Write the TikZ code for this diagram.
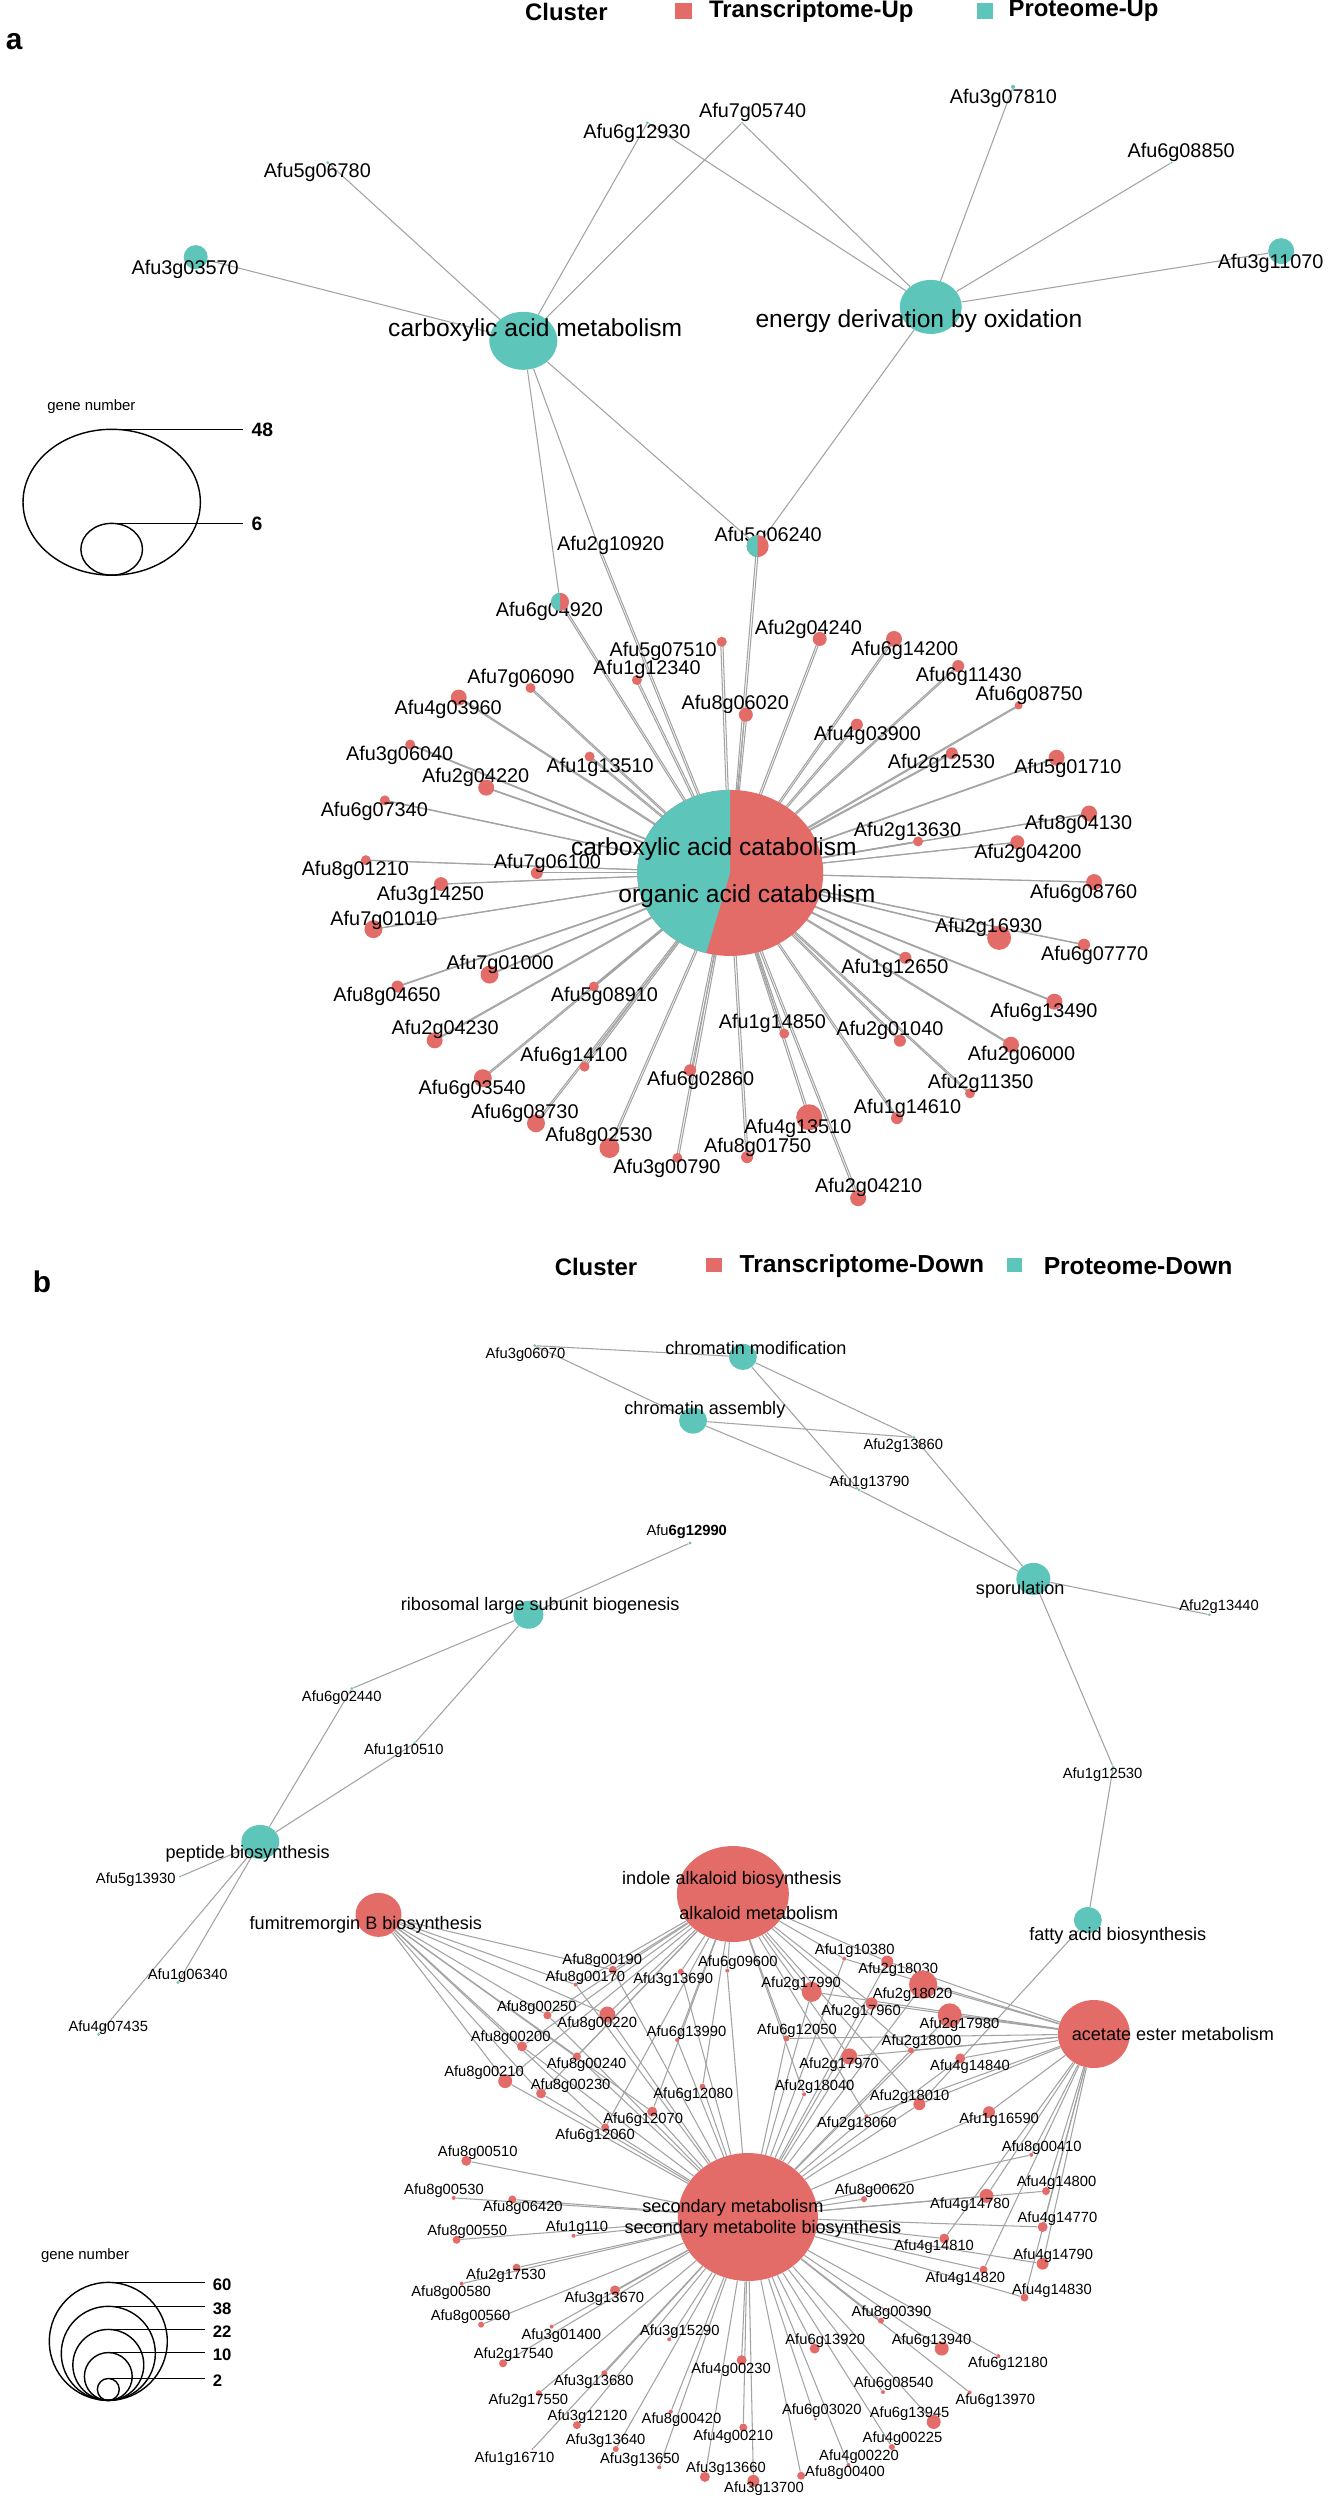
\documentclass[tikz,border=0pt]{standalone}
\usepackage{fontspec}
\setmainfont{Liberation Sans}
\usetikzlibrary{shapes.geometric}
\definecolor{rd}{HTML}{E46C68}
\definecolor{tl}{HTML}{5EC5BA}
\definecolor{eg}{HTML}{A3A3A3}
\pgfdeclarelayer{background}
\pgfdeclarelayer{paper}
\pgfsetlayers{paper,background,main}
\tikzset{
  dotn/.style={circle,inner sep=0pt,draw=none},
  hub/.style={ellipse,inner sep=0pt,draw=none},
  glab/.style={font=\fontsize{11.3}{12}\selectfont,inner sep=0pt},
  blab/.style={font=\fontsize{14}{15}\selectfont,inner sep=0pt},
  edge/.style={draw=eg,line width=0.6pt},
  legt/.style={font=\bfseries\fontsize{13.6}{15}\selectfont,inner sep=0pt},
  Qa/.style={shift={(#1)},xscale=0.4222,yscale=0.3986},
  Qt/.style={shift={(#1)},scale=0.3333},
}
\newcommand\G[5][rd]{\node[dotn,fill=#1,minimum size=#5*0.04cm] (#2) at (#3) {};\node[glab] at (#4) {#2};}
\newcommand\HB[5]{\node[hub,fill=#1,minimum width=#4*0.04cm,minimum height=#5*0.04cm] (#2) at (#3) {};}
\begin{document}
\begin{tikzpicture}[x=0.02cm,y=-0.02cm]
\begin{pgfonlayer}{paper}
\path[use as bounding box,fill=white] (0,0) rectangle (1324,2500);
\end{pgfonlayer}
% ================= PANEL A =================
\begin{scope}[Qa={0,0}]
\node[font=\bfseries\fontsize{17}{18}\selectfont] at (22,105) {a};
\node[legt] at (1330,30) {Cluster};
\G[tl]{Afu5g06780}{765,408}{740,432}{1.5}
\G[tl]{Afu6g12930}{1522,308}{1497,335}{1.5}
\G[tl]{Afu3g03570}{452,645}{427,675}{12}
\HB{tl}{cam}{1228,855}{34}{29}
\node[blab] at (1256,828) {carboxylic acid metabolism};
\G[tl]{Afu2g10920}{1412,1388}{1435,1368}{1}
\node[dotn,minimum size=18*0.02cm] (Afu6g04920) at (1315,1510) {};
\node[glab] at (1290,1535) {Afu6g04920};
% legend
\node[font=\fontsize{8.5}{9}\selectfont] at (205,1020) {gene number};
\draw[line width=0.8pt] (253,1260) ellipse[x radius=210,y radius=183];
\draw[line width=0.8pt] (253,1378) ellipse[x radius=73,y radius=65];
\draw[line width=0.8pt] (253,1077) -- (565,1077) (253,1313) -- (565,1313);
\node[font=\bfseries\fontsize{11}{12}\selectfont,anchor=west] at (570,1078) {48};
\node[font=\bfseries\fontsize{11}{12}\selectfont,anchor=west] at (570,1313) {6};
\end{scope}
\begin{scope}[Qa={662,0}]
\fill[rd] (20,8) rectangle (60,48);
\node[legt] at (342,28) {Transcriptome-Up};
\fill[tl] (735,8) rectangle (772,48);
\node[legt] at (987,28) {Proteome-Up};
\G[tl]{Afu7g05740}{178,308}{203,283}{1}
\G[tl]{Afu3g07810}{820,218}{797,247}{2}
\G[tl]{Afu6g08850}{1195,408}{1218,383}{1}
\G[tl]{Afu3g11070}{1455,630}{1430,660}{13}
\HB{tl}{edo}{625,770}{31}{27}
\node[blab] at (597,805) {energy derivation by oxidation};
\node[dotn,minimum size=22*0.02cm] (Afu5g06240) at (215,1370) {};
\node[glab] at (240,1345) {Afu5g06240};
\end{scope}
% half-coloured small nodes
\fill[rd] (Afu5g06240.center) circle[radius=11];
\fill[tl] (Afu5g06240.center) ++(0,-11) arc[start angle=270,end angle=90,radius=11] -- cycle;
\fill[rd] (Afu6g04920.center) circle[radius=9];
\fill[tl] (Afu6g04920.center) ++(0,-9) arc[start angle=270,end angle=90,radius=9] -- cycle;
\begin{scope}[Qa={0,625}]
\G{Afu7g06090}{1245,158}{1222,133}{5}
\G{Afu4g03960}{1075,182}{1050,212}{8}
\G{Afu3g06040}{960,300}{935,327}{5}
\G{Afu1g13510}{1385,330}{1410,357}{5}
\G{Afu2g04220}{1140,408}{1115,383}{8}
\G{Afu6g07340}{900,440}{875,468}{5}
\G{Afu8g01210}{855,590}{830,615}{5}
\G{Afu7g06100}{1260,622}{1285,598}{6}
\G{Afu3g14250}{1033,650}{1008,678}{7}
\G{Afu7g01010}{873,763}{898,740}{9}
\G{Afu7g01000}{1148,877}{1173,852}{9}
\G{Afu8g04650}{930,907}{905,932}{6}
\G{Afu5g08910}{1395,907}{1420,932}{5}
\G{Afu2g04230}{1018,1042}{1043,1015}{8}
\G{Afu6g14100}{1373,1108}{1348,1083}{5}
\G{Afu6g03540}{1132,1137}{1107,1165}{9}
\G{Afu6g08730}{1258,1250}{1232,1225}{9}
\G{Afu8g02530}{1432,1312}{1407,1283}{10}
\end{scope}
\begin{scope}[Qa={662,625}]
\node[hub,minimum width=186*0.02cm,minimum height=166*0.02cm] (ca) at (150,622) {};
\G{Afu5g07510}{130,42}{-9,67}{5}
\G{Afu1g12340}{-71,138}{-47,112}{5}
\G{Afu3g00790}{25,1337}{0,1362}{5}
\G{Afu6g02860}{55,1117}{80,1142}{6}
\G{Afu2g04240}{362,35}{335,10}{7}
\G{Afu6g14200}{538,35}{563,63}{8}
\G{Afu6g11430}{690,103}{715,130}{6}
\G{Afu6g08750}{833,202}{858,177}{4}
\G{Afu8g06020}{187,225}{162,198}{7}
\G{Afu4g03900}{450,250}{475,277}{6}
\G{Afu2g12530}{675,322}{650,348}{6}
\G{Afu5g01710}{923,333}{950,360}{8}
\G{Afu8g04130}{1000,473}{975,500}{8}
\G{Afu2g13630}{595,543}{570,518}{5}
\G{Afu2g04200}{830,545}{855,572}{7}
\G{Afu6g08760}{1012,645}{987,673}{8}
\G{Afu2g16930}{787,785}{762,758}{12}
\G{Afu6g07770}{988,802}{1013,828}{6}
\G{Afu1g12650}{565,835}{540,862}{6}
\G{Afu6g13490}{918,945}{893,973}{8}
\G{Afu1g14850}{278,1025}{250,1000}{5}
\G{Afu2g01040}{552,1043}{528,1018}{6}
\G{Afu2g06000}{815,1053}{840,1080}{8}
\G{Afu2g11350}{718,1175}{743,1150}{5}
\G{Afu1g14610}{545,1237}{570,1212}{6}
\G{Afu4g13510}{337,1235}{310,1263}{13}
\G{Afu8g01750}{190,1335}{215,1310}{6}
\G{Afu2g04210}{453,1438}{478,1412}{8}
\end{scope}
% central pie
\fill[rd] (ca.center) ellipse[x radius=93,y radius=83];
\fill[tl] (ca.center) -- ++(0,-83) arc[start angle=270,end angle=105,x radius=93,y radius=83] -- cycle;
\node[blab] at (709,849) {carboxylic acid catabolism};
\node[blab] at (742,896) {organic acid catabolism};
\begin{pgfonlayer}{background}
\foreach \g in {Afu3g03570,Afu5g06780,Afu6g12930,Afu7g05740,Afu2g10920,Afu6g04920,Afu5g06240}
  \draw[edge] (cam) -- (\g);
\foreach \g in {Afu6g12930,Afu7g05740,Afu3g07810,Afu6g08850,Afu3g11070,Afu5g06240}
  \draw[edge] (edo) -- (\g);
\foreach \g in {Afu5g06240,Afu2g10920,Afu6g04920,Afu7g06090,Afu4g03960,Afu3g06040,Afu1g13510,Afu2g04220,Afu6g07340,Afu8g01210,Afu7g06100,Afu3g14250,Afu7g01010,Afu7g01000,Afu8g04650,Afu5g08910,Afu2g04230,Afu6g14100,Afu6g03540,Afu6g08730,Afu8g02530,Afu5g07510,Afu1g12340,Afu3g00790,Afu6g02860,Afu2g04240,Afu6g14200,Afu6g11430,Afu6g08750,Afu8g06020,Afu4g03900,Afu2g12530,Afu5g01710,Afu8g04130,Afu2g13630,Afu2g04200,Afu6g08760,Afu2g16930,Afu6g07770,Afu1g12650,Afu6g13490,Afu1g14850,Afu2g01040,Afu2g06000,Afu2g11350,Afu1g14610,Afu4g13510,Afu8g01750,Afu2g04210}
  {\draw[edge] ([xshift=-0.6pt]ca.center) -- ([xshift=-0.6pt]\g.center);
   \draw[edge] ([xshift=0.6pt]ca.center) -- ([xshift=0.6pt]\g.center);}
\end{pgfonlayer}
% ================= PANEL B =================
\tikzset{glab/.style={font=\fontsize{8.4}{9}\selectfont,inner sep=0pt},
         blab/.style={font=\fontsize{10.3}{11}\selectfont,inner sep=0pt}}
\begin{scope}[Qa={0,1250}]
\node[font=\bfseries\fontsize{17}{18}\selectfont] at (88,80) {b};
\node[legt] at (1400,42) {Cluster};
\G[tl]{Afu3g06070}{1255,240}{1233,262}{1.5}
\HB{tl}{ribo}{1240,915}{15}{14}
\node[blab] at (1268,892) {ribosomal large subunit biogenesis};
\G[tl]{Afu6g02440}{822,1100}{798,1122}{1.5}
\G[tl]{Afu1g10510}{970,1238}{945,1255}{1.5}
\HB{tl}{pep}{605,1485}{19}{17}
\node[blab] at (575,1515) {peptide biosynthesis};
\G[tl]{Afu5g13930}{415,1572}{310,1580}{1}
\end{scope}
\begin{scope}[Qa={662,1250}]
\fill[rd] (92,20) rectangle (130,56);
\node[legt,font=\bfseries\fontsize{14}{15}\selectfont] at (462,40) {Transcriptome-Down};
\fill[tl] (805,20) rectangle (842,56);
\node[legt,font=\bfseries\fontsize{14}{15}\selectfont] at (1116,40) {Proteome-Down};
\HB{tl}{cmod}{180,268}{14}{13}
\node[blab] at (211,245) {chromatin modification};
\HB{tl}{casm}{62,428}{14}{13}
\node[blab] at (90,402) {chromatin assembly};
\G[tl]{Afu2g13860}{585,470}{560,490}{1.5}
\G[tl]{Afu1g13790}{455,602}{480,583}{1.5}
\node[dotn,fill=tl,minimum size=3*0.02cm] (Afu6g12990) at (55,735) {};
\node[glab] at (47,707) {Afu\textbf{6g12990}};
\HB{tl}{spor}{868,825}{17}{16}
\node[blab] at (837,852) {sporulation};
\G[tl]{Afu2g13440}{1285,915}{1308,895}{1.5}
\G[tl]{Afu1g12530}{1057,1297}{1032,1317}{1.5}
\end{scope}
\begin{scope}[Qa={0,1875}]
\G[tl]{Afu1g06340}{410,270}{433,252}{1.5}
\G[tl]{Afu4g07435}{222,400}{245,382}{1.5}
\HB{rd}{fumi}{885,100}{23}{22}
\node[blab] at (855,125) {fumitremorgin B biosynthesis};
\G{Afu8g00190}{1440,238}{1415,215}{4}
\G{Afu8g00170}{1352,275}{1375,257}{2}
\G{Afu8g00250}{1285,352}{1260,332}{4}
\G{Afu8g00220}{1427,350}{1403,373}{8}
\G{Afu8g00200}{1225,430}{1198,408}{5}
\G{Afu8g00240}{1355,455}{1378,477}{4}
\G{Afu8g00210}{1185,517}{1135,496}{7}
\G{Afu8g00230}{1270,548}{1340,528}{5}
\G{Afu6g12060}{1422,633}{1398,655}{4}
\G{Afu8g00510}{1093,717}{1120,697}{5}
\G{Afu8g00530}{1063,810}{1040,792}{2}
\G{Afu8g06420}{1202,814}{1227,835}{4}
\G{Afu8g00550}{1070,915}{1095,895}{4}
\G{Afu1g110}{1347,905}{1355,885}{2}
\G{Afu2g17530}{1212,985}{1187,1006}{4}
\G{Afu8g00580}{1082,1025}{1057,1047}{2}
\G{Afu3g13670}{1445,1042}{1420,1063}{5}
\G{Afu8g00560}{1128,1128}{1103,1107}{3}
\G{Afu3g01400}{1295,1133}{1318,1155}{2}
\G{Afu2g17540}{1180,1225}{1205,1203}{4}
\G{Afu3g13680}{1420,1250}{1395,1272}{3}
\G{Afu2g17550}{1265,1300}{1240,1320}{3}
\G{Afu3g12120}{1355,1380}{1380,1360}{4}
\G{Afu3g13640}{1447,1440}{1423,1420}{3}
\G{Afu1g16710}{1250,1440}{1207,1465}{1}
% legend b
\node[font=\fontsize{8.5}{9}\selectfont] at (190,955) {gene number};
\foreach \t/\lab in {1022/60,1082/38,1140/22,1198/10,1263/2}{
  \pgfmathsetmacro\ry{(1318-\t)/2}
  \pgfmathsetmacro\rx{\ry*0.944}
  \draw[line width=0.8pt] (245,\t+\ry) ellipse[x radius=\rx,y radius=\ry];
  \draw[line width=0.8pt] (245,\t) -- (475,\t);
  \node[font=\bfseries\fontsize{9.5}{10}\selectfont,anchor=west] at (478,\t+5) {\lab};
}
\end{scope}
\begin{scope}[Qt={220,1760}]
\G{Afu3g13690}{1368,635}{1345,660}{3}
\G{Afu6g13990}{1357,840}{1385,818}{2}
\end{scope}
\begin{scope}[Qt={560,2040}]
\G{Afu6g12070}{262,215}{235,240}{5}
\G{Afu6g12080}{413,140}{385,165}{3}
\G{Afu3g15290}{313,898}{345,875}{2}
\G{Afu3g13650}{283,1282}{225,1260}{2}
\G{Afu8g00420}{318,1115}{350,1140}{2}
\end{scope}
\begin{scope}[Qa={662,1875}]
\HB{tl}{fatty}{997,113}{14}{13}
\node[blab] at (1068,152) {fatty acid biosynthesis};
\G{Afu6g09600}{143,240}{168,220}{2}
\G{Afu1g10380}{420,210}{445,190}{2}
\G{Afu2g18030}{522,217}{548,238}{6}
\G{Afu2g17990}{343,293}{318,273}{10}
\G{Afu2g18020}{607,275}{582,300}{14}
\G{Afu2g17960}{485,322}{460,343}{6}
\G{Afu2g17980}{670,352}{693,375}{12}
\G{Afu6g12050}{283,410}{308,390}{3}
\G{Afu2g18000}{578,440}{603,418}{3}
\G{Afu2g17970}{432,455}{408,477}{8}
\G{Afu4g14840}{695,460}{718,482}{5}
\G{Afu2g18040}{325,550}{350,530}{2}
\G{Afu2g18010}{598,575}{575,555}{6}
\G{Afu2g18060}{473,605}{450,625}{2}
\G{Afu1g16590}{763,595}{787,615}{6}
\G{Afu8g00410}{863,702}{888,683}{2}
\G{Afu4g14800}{898,793}{923,772}{4}
\G{Afu8g00620}{467,813}{492,793}{3}
\G{Afu4g14780}{757,805}{718,828}{7}
\G{Afu4g14770}{890,883}{925,863}{5}
\G{Afu4g14810}{657,912}{633,933}{5}
\G{Afu4g14790}{890,975}{915,955}{6}
\G{Afu4g14820}{750,990}{707,1013}{4}
\G{Afu4g14830}{847,1060}{912,1042}{4}
\G{Afu8g00390}{507,1118}{532,1098}{3}
\G{Afu6g13940}{651,1188}{627,1167}{7}
\G{Afu6g12180}{785,1207}{808,1227}{2}
\G{Afu6g13920}{350,1188}{375,1167}{5}
\G{Afu4g00230}{177,1217}{152,1240}{5}
\G{Afu6g08540}{512,1297}{537,1277}{2}
\G{Afu6g13970}{717,1298}{778,1318}{2}
\G{Afu6g03020}{352,1365}{367,1343}{1.5}
\G{Afu6g13945}{632,1372}{575,1352}{7}
\G{Afu4g00210}{181,1386}{157,1408}{4}
\G{Afu4g00225}{533,1435}{558,1415}{3}
\G{Afu4g00220}{430,1480}{455,1460}{2}
\G{Afu8g00400}{318,1507}{422,1500}{4}
\G{Afu3g13660}{90,1510}{140,1490}{5}
\G{Afu3g13700}{205,1520}{230,1540}{6}
\end{scope}
% big red hubs of b
\HB{rd}{alk}{728,1894}{56}{48}
\HB{rd}{acet}{1089,2034}{36}{34}
\HB{rd}{sec}{743,2217}{70}{64}
\node[blab] at (727,1880) {indole alkaloid biosynthesis};
\node[blab] at (754,1913) {alkaloid metabolism};
\node[blab] at (1168,2034) {acetate ester metabolism};
\node[blab] at (728,2208) {secondary metabolism};
\node[blab] at (758,2229) {secondary metabolite biosynthesis};
\begin{pgfonlayer}{background}
\foreach \g in {Afu3g06070,Afu2g13860,Afu1g13790}{\draw[edge] (cmod) -- (\g); \draw[edge] (casm) -- (\g);}
\foreach \g in {Afu2g13860,Afu1g13790,Afu2g13440,Afu1g12530} \draw[edge] (spor) -- (\g);
\foreach \g in {Afu1g12530,Afu2g18010} \draw[edge] (fatty) -- (\g);
\foreach \g in {Afu6g12990,Afu6g02440,Afu1g10510} \draw[edge] (ribo) -- (\g);
\foreach \g in {Afu6g02440,Afu1g10510,Afu5g13930,Afu1g06340,Afu4g07435} \draw[edge] (pep) -- (\g);
\foreach \g in {Afu8g00190,Afu8g00170,Afu8g00250,Afu8g00220,Afu8g00200,Afu8g00240,Afu8g00210,Afu8g00230,Afu6g12060,Afu6g12070} \draw[edge] (fumi) -- (\g);
\foreach \g in {Afu8g00190,Afu8g00170,Afu8g00250,Afu8g00220,Afu8g00200,Afu8g00240,Afu8g00210,Afu8g00230,Afu6g12060,Afu6g12070,Afu6g12080,Afu3g13690,Afu6g13990,Afu6g09600,Afu2g17990,Afu6g12050,Afu2g17970,Afu2g18040,Afu2g18060,Afu2g18010,Afu2g18000,Afu2g17960,Afu1g10380,Afu2g18030} \draw[edge] (alk) -- (\g);
\foreach \g in {Afu1g10380,Afu2g18030,Afu2g18020,Afu2g17960,Afu2g17980,Afu2g18000,Afu2g17970,Afu4g14840,Afu2g18010,Afu2g18060,Afu1g16590,Afu8g00410,Afu4g14800,Afu4g14780,Afu4g14770,Afu4g14810,Afu4g14790,Afu4g14820,Afu4g14830,Afu6g12050,Afu2g17990} \draw[edge] (acet) -- (\g);
\foreach \g in {Afu8g00510,Afu8g00530,Afu8g06420,Afu8g00550,Afu1g110,Afu2g17530,Afu8g00580,Afu3g13670,Afu8g00560,Afu3g01400,Afu2g17540,Afu3g13680,Afu2g17550,Afu3g12120,Afu3g13640,Afu1g16710,Afu3g15290,Afu3g13650,Afu8g00420,Afu4g00230,Afu4g00210,Afu3g13660,Afu3g13700,Afu8g00400,Afu4g00220,Afu6g03020,Afu4g00225,Afu6g13945,Afu6g08540,Afu6g13920,Afu6g13970,Afu6g13940,Afu6g12180,Afu8g00390,Afu4g14830,Afu4g14820,Afu4g14790,Afu4g14810,Afu4g14770,Afu4g14780,Afu4g14800,Afu8g00410,Afu8g00620,Afu1g16590,Afu2g18060,Afu2g18010,Afu2g18040,Afu2g17970,Afu6g12050,Afu4g14840,Afu2g18000,Afu2g17980,Afu2g17960,Afu2g18020,Afu2g18030,Afu2g17990,Afu1g10380,Afu6g09600,Afu6g12080,Afu6g12070,Afu6g12060,Afu8g00230,Afu8g00210,Afu8g00240,Afu8g00200,Afu8g00220,Afu8g00250,Afu8g00170,Afu8g00190,Afu3g13690,Afu6g13990}
  \draw[edge] (sec) -- (\g);
\end{pgfonlayer}
\end{tikzpicture}
\end{document}
